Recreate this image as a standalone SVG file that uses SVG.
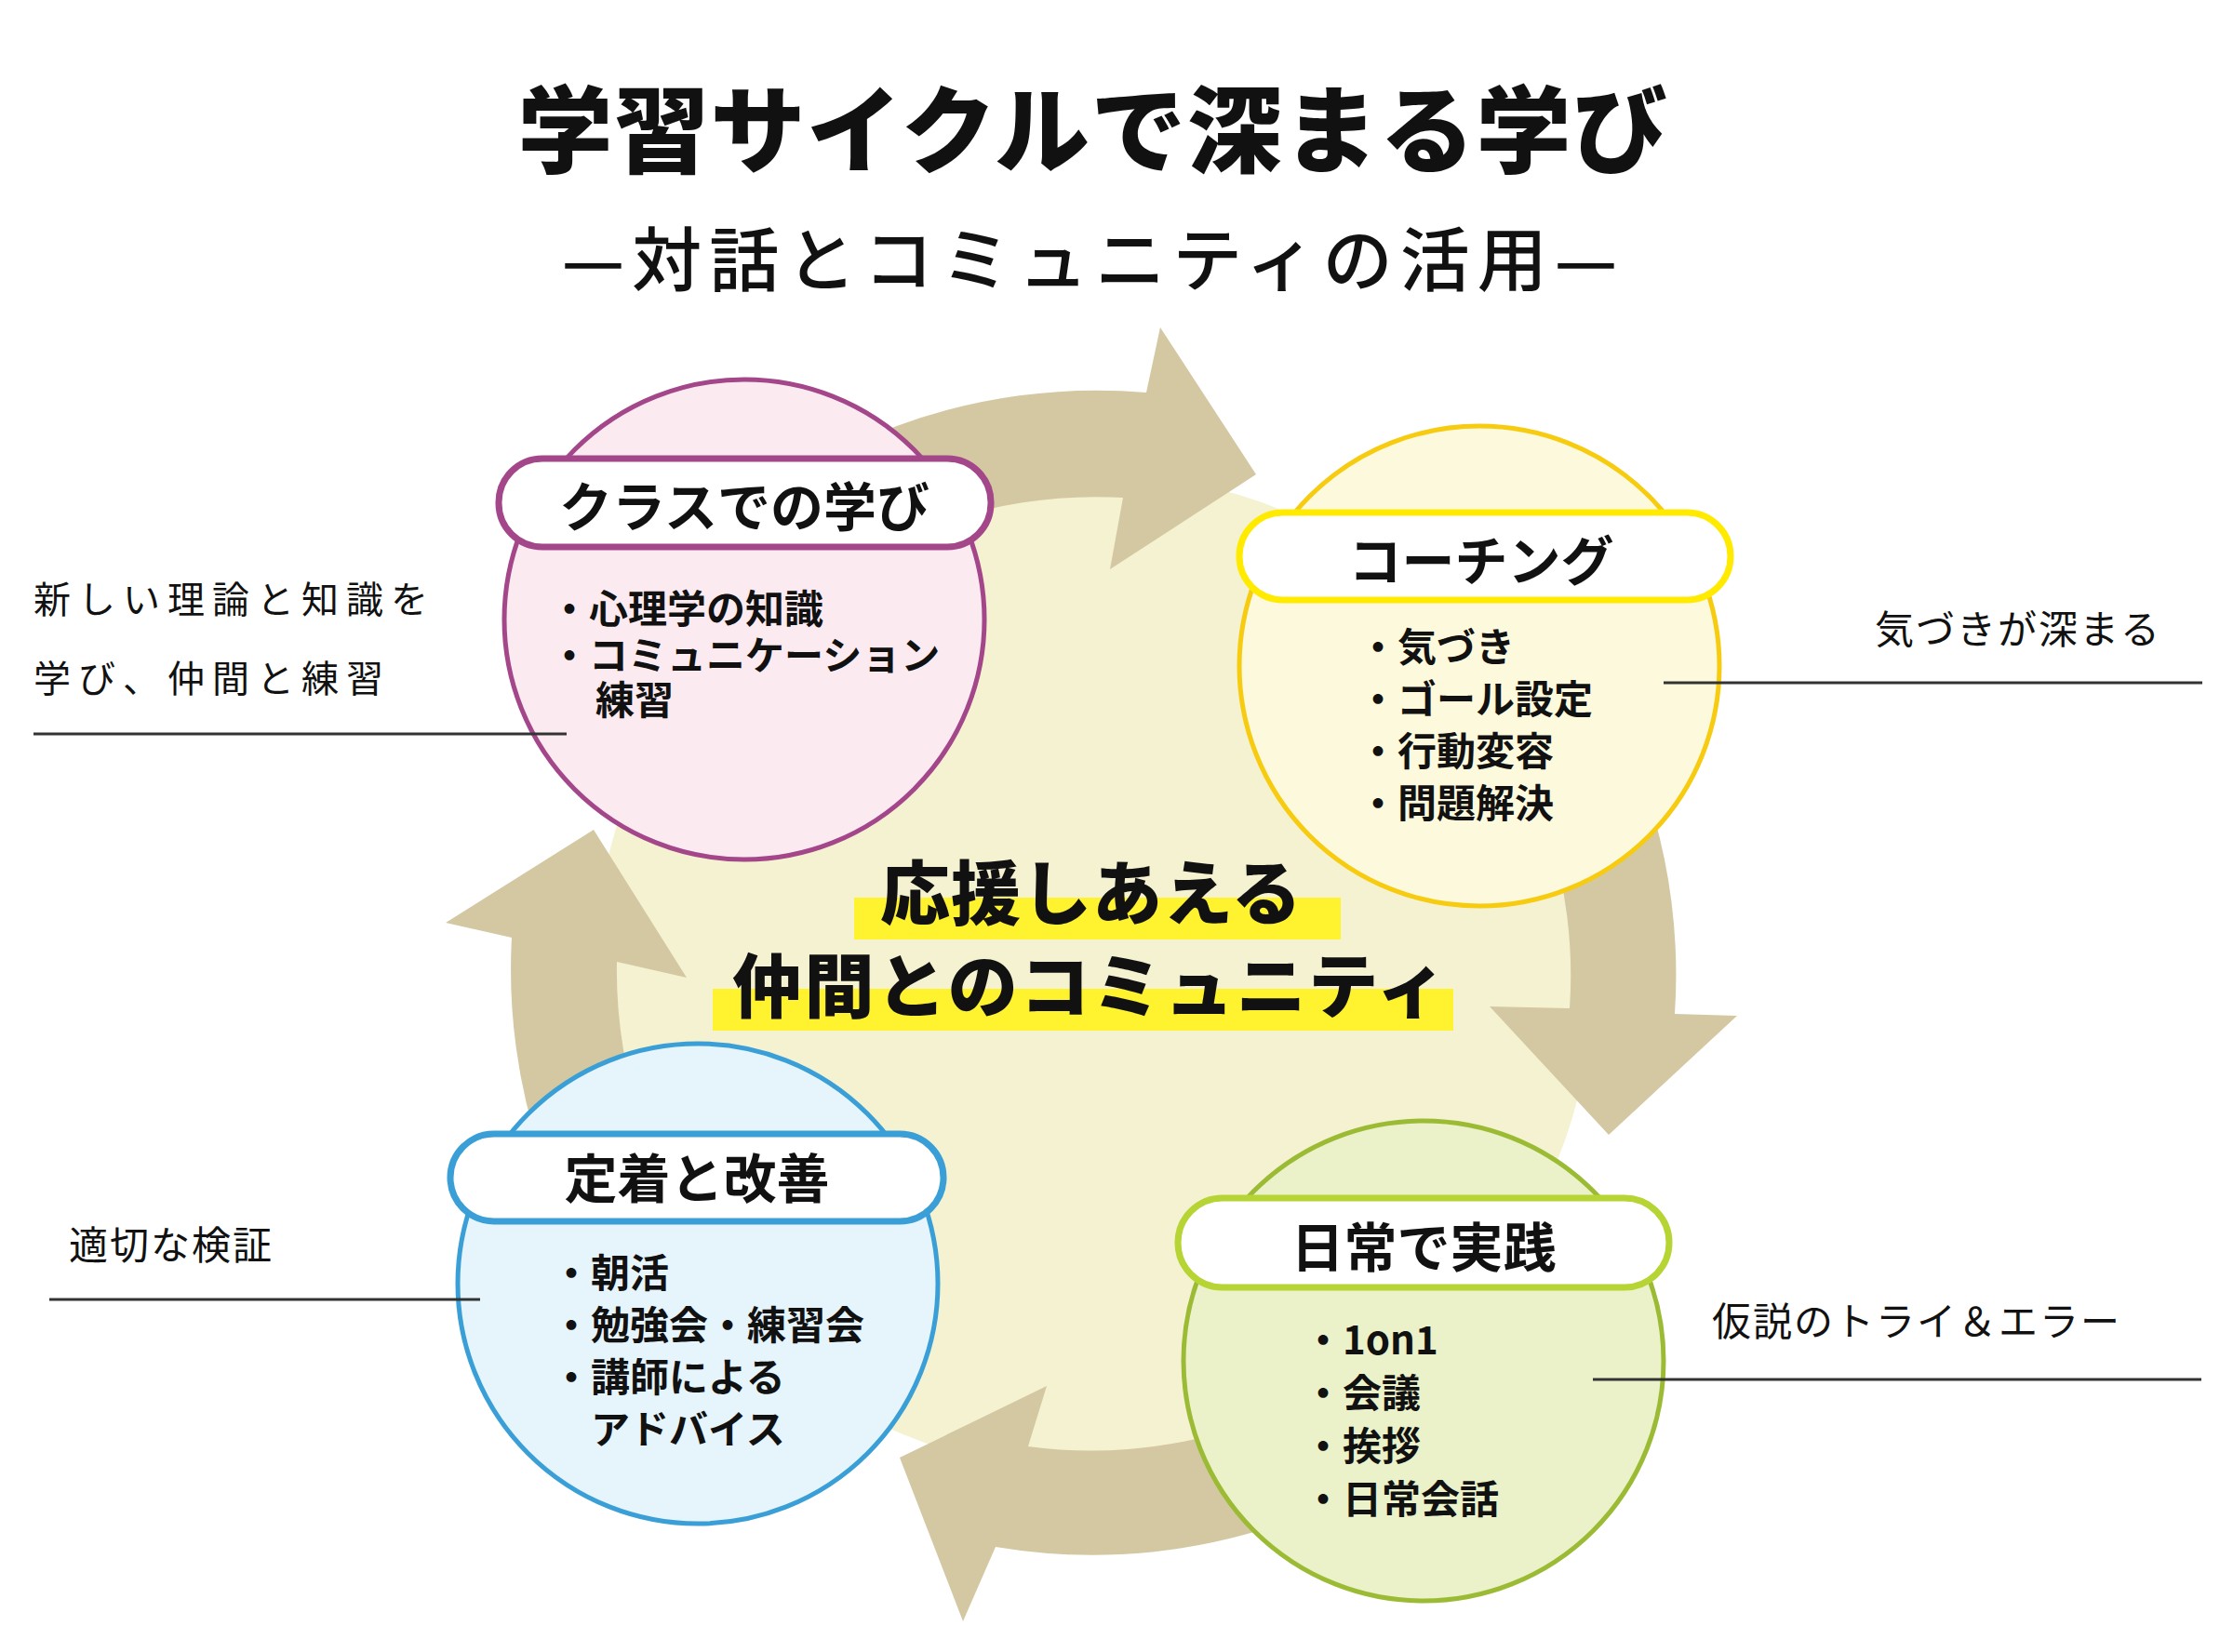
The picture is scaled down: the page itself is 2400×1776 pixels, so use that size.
<svg xmlns="http://www.w3.org/2000/svg" width="2400" height="1776" viewBox="0 0 2400 1776">
<style>
text{font-family:"Noto Sans CJK JP","Noto Sans",sans-serif;fill:#111}
.title{font-size:102px;font-weight:900;text-anchor:middle;letter-spacing:1.5px}
.sub{font-size:75px;font-weight:500;text-anchor:middle;letter-spacing:8px}
.center{font-size:75px;font-weight:900;text-anchor:middle;letter-spacing:1px}
.label{font-size:57px;font-weight:700;text-anchor:middle}
.bullet{font-size:42px;font-weight:700}
.note{font-size:42px;font-weight:400;letter-spacing:2px}
.band{fill:#D4C8A3}
.pill{fill:#fff;stroke-width:7}
.node{stroke-width:5}
.leader{stroke:#333;stroke-width:3}
</style>
<rect width="2400" height="1776" fill="#fff"/>
<text class="title" x="1175" y="178">学習サイクルで深まる学び</text>
<text class="sub" x="1175" y="307">—対話とコミュニティの活用—</text>

<circle cx="1176" cy="1046" r="537" fill="#F5F2D2"/>

<g id="connectors">
<path class="band" d="M735,605 A624,624 0 0 1 1232,422 L1247,352 L1350,510 L1193,612 L1207,535 A511,511 0 0 0 815,685 Z"/>
<path class="band" d="M1654,645 A624,624 0 0 1 1800,1090 L1867,1092 L1729,1220 L1601,1082 L1687,1084 A511,511 0 0 0 1567,718 Z"/>
<path class="band" d="M1577,1524 A624,624 0 0 1 1070,1663 L1035,1743 L967,1567 L1125,1490 L1105,1555 A511,511 0 0 0 1505,1437 Z"/>
<path class="band" d="M698,1447 A624,624 0 0 1 550,1008 L479,992 L638,892 L738,1051 L663,1034 A511,511 0 0 0 785,1375 Z"/>
</g>

<g id="community">
<rect x="918" y="965" width="523" height="45" fill="#FFF22E"/>
<rect x="766" y="1063" width="796" height="45" fill="#FFF22E"/>
<text class="center" x="1173" y="988">応援しあえる</text>
<text class="center" x="1172" y="1088" style="letter-spacing:2.5px">仲間とのコミュニティ</text>
</g>

<g id="node-class">
<circle class="node" cx="800" cy="666" r="258" fill="#FBEBF1" stroke="#A4468A"/>
<rect class="pill" x="536" y="493" width="529" height="95" rx="47" stroke="#A4468A"/>
<text class="label" x="800" y="566">クラスでの学び</text>
<text class="bullet" x="591" y="670">・心理学の知識</text>
<text class="bullet" x="591" y="720">・コミュニケーション</text>
<text class="bullet" x="640" y="768">練習</text>
</g>

<g id="node-coaching">
<circle class="node" cx="1590" cy="716" r="258" fill="#FDF9DC" stroke="#F6CB10"/>
<rect class="pill" x="1332" y="551" width="528" height="94" rx="47" stroke="#FFEA00"/>
<text class="label" x="1592" y="624">コーチング</text>
<text class="bullet" x="1460" y="711">・気づき</text>
<text class="bullet" x="1460" y="767">・ゴール設定</text>
<text class="bullet" x="1460" y="823">・行動変容</text>
<text class="bullet" x="1460" y="879">・問題解決</text>
</g>

<g id="node-practice">
<circle class="node" cx="1530" cy="1463" r="258" fill="#EBF1C8" stroke="#9CBB35"/>
<rect class="pill" x="1266" y="1288" width="528" height="96" rx="48" stroke="#B6D433"/>
<text class="label" x="1530" y="1362">日常で実践</text>
<text class="bullet" x="1401" y="1456">・1on1</text>
<text class="bullet" x="1401" y="1513">・会議</text>
<text class="bullet" x="1401" y="1570">・挨拶</text>
<text class="bullet" x="1401" y="1627">・日常会話</text>
</g>

<g id="node-improve">
<circle class="node" cx="750" cy="1380" r="258" fill="#E6F4FC" stroke="#3A9FD6"/>
<rect class="pill" x="484" y="1219" width="530" height="94" rx="47" stroke="#3A9FD6"/>
<text class="label" x="749" y="1288">定着と改善</text>
<text class="bullet" x="593" y="1384">・朝活</text>
<text class="bullet" x="593" y="1440">・勉強会・練習会</text>
<text class="bullet" x="593" y="1496">・講師による</text>
<text class="bullet" x="635" y="1552">アドバイス</text>
</g>

<g id="notes">
<text class="note" x="36" y="659" style="letter-spacing:8px;font-size:40px">新しい理論と知識を</text>
<text class="note" x="36" y="744" style="letter-spacing:8px;font-size:40px">学び、仲間と練習</text>
<line class="leader" x1="36" y1="789" x2="609" y2="789"/>
<text class="note" x="2015" y="692">気づきが深まる</text>
<line class="leader" x1="1788" y1="734" x2="2367" y2="734"/>
<text class="note" x="74" y="1354">適切な検証</text>
<line class="leader" x1="53" y1="1397" x2="516" y2="1397"/>
<text class="note" x="1840" y="1436">仮説のトライ＆エラー</text>
<line class="leader" x1="1712" y1="1483" x2="2366" y2="1483"/>
</g>
</svg>
